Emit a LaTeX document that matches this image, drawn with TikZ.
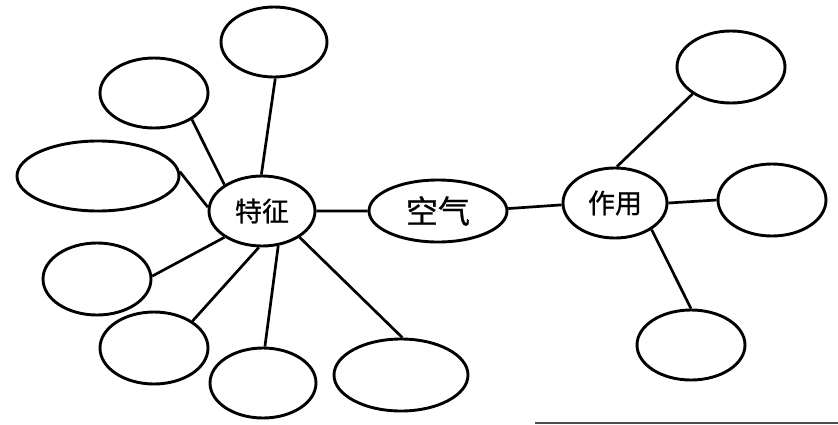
\documentclass[tikz,border=0pt]{standalone}
\usepackage{fontspec}
\newfontfamily\cjk[FakeBold=0.8]{Noto Sans CJK SC}
\usetikzlibrary{shapes.geometric}
\tikzset{
  globo/.style={draw, ellipse, line width=2.9pt, inner sep=0pt,
    minimum width=108pt, minimum height=70pt},
  rayo/.style={-, line width=2.7pt}
}
\begin{document}
\begin{tikzpicture}[x=1pt, y=-1pt]
                    \useasboundingbox (0,0) rectangle (838,424);
                    % Centro
                    \node[globo, minimum width=106pt] (tz) at (262,211)
                      {\cjk\fontsize{27}{27}\selectfont 特征};
                    \node[globo, minimum width=138pt, minimum height=62pt] (kq) at (438,211)
                      {\cjk\fontsize{32}{32}\selectfont 空气};
                    \node[globo, minimum width=104pt] (zy) at (615,203)
                      {\cjk\fontsize{27}{27}\selectfont 作用};
                    % Globos de caracteristicas
                    \node[globo, minimum width=106pt] (a1) at (274,42) {};
                    \node[globo] (a2) at (154,93) {};
                    \node[globo, minimum width=162pt] (a3) at (98,176) {};
                    \node[globo, minimum height=72pt] (a4) at (97,279) {};
                    \node[globo, minimum height=72pt] (a5) at (154,348) {};
                    \node[globo, minimum width=106pt] (a6) at (263,383) {};
                    \node[globo, minimum width=134pt, minimum height=72pt] (a7) at (401,375) {};
                    % Globos de usos
                    \node[globo, minimum height=72pt] (b1) at (731,67) {};
                    \node[globo, minimum height=72pt] (b2) at (772,200) {};
                    \node[globo] (b3) at (691,345) {};
                    % Lineas
                    \draw[rayo]
                       (a1.-88) -- (tz.91)
                       (a2.-35) -- (tz.145)
                       (a3.3) -- (tz.176)
                       (a4.3) -- (tz.-145)
                       (a5.35) -- (tz.-95)
                       (a6.87) -- (tz.-65)
                       (a7.88) -- (tz.-35)
                       (tz.0) -- (kq.180)
                       (kq.2) -- (zy.182)
                       (zy.87) -- (b1.-145)
                       (zy.0) -- (b2.180)
                       (zy.-36) -- (b3.90);
                    % Borde inferior
                    \coordinate (bi) at (535,423);
                    \coordinate (bd) at (838,423);
                    \draw[line width=1.8pt, black!70] (bi) -- (bd);
\end{tikzpicture}
\end{document}
